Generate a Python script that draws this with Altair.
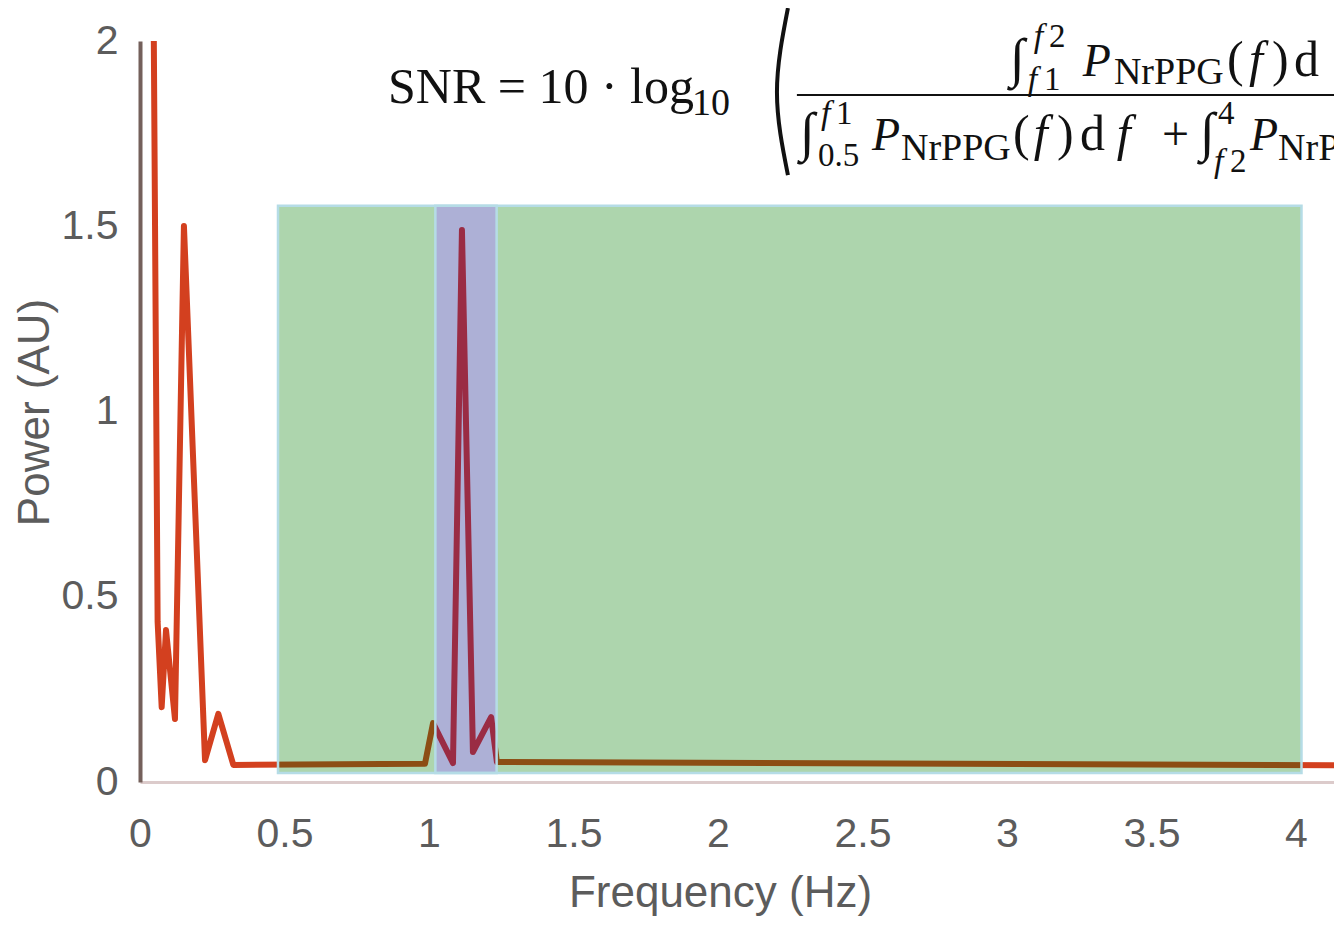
import altair as alt
import pandas as pd

# ---------------- data ----------------
freq = [0.047, 0.061, 0.075, 0.090, 0.121, 0.152, 0.225, 0.271, 0.323,
        0.986, 1.014, 1.083, 1.114, 1.152, 1.215, 1.235, 4.16]
power = [2.10, 0.432, 0.202, 0.410, 0.170, 1.501, 0.059, 0.184, 0.046,
         0.049, 0.159, 0.051, 1.490, 0.081, 0.175, 0.054, 0.045]

band_lo = [0.4775, 1.022]
band_hi = [4.019, 1.234]
band_bottom = [0.024, 0.024]
band_top = [1.555, 1.555]
band_fill = ["#add5ad", "#adb0d6"]

x_ticks = [0, 0.5, 1, 1.5, 2, 2.5, 3, 3.5, 4]
y_ticks = [0, 0.5, 1, 1.5, 2]

X_MAX = 4.1315
Y_MAX = 2.0

# formula annotation (placed in data units)
up_text = ["SNR = 10 · log", "10",
           "∫", "2", "1", "NrPPG", "(", ")", "d",
           "∫", "1", "0.5", "NrPPG", "(", ")", "d", "+", "∫", "4", "2", "NrPPG"]
up_f = [0.858, 1.910,
        3.010, 3.145, 3.128, 3.370, 3.761, 3.917, 3.993,
        2.284, 2.408, 2.346, 2.633, 3.021, 3.173, 3.253, 3.536, 3.668, 3.730, 3.772, 3.938]
up_p = [1.833, 1.800,
        1.906, 1.984, 1.868, 1.884, 1.906, 1.906, 1.906,
        1.706, 1.776, 1.662, 1.679, 1.706, 1.706, 1.706, 1.706, 1.706, 1.776, 1.646, 1.679]
up_size = [50, 38,
           54, 33, 33, 38, 50, 50, 50,
           54, 33, 33, 38, 50, 50, 50, 48, 54, 33, 33, 38]

it_text = ["f", "f", "P", "f", "f", "P", "f", "f", "f", "P"]
it_f = [3.093, 3.072, 3.262, 3.837, 2.356, 2.533, 3.093, 3.380, 3.716, 3.841]
it_p = [1.984, 1.868, 1.906, 1.906, 1.776, 1.706, 1.706, 1.706, 1.646, 1.706]
it_size = [34, 34, 46, 50, 34, 46, 50, 50, 34, 46]

bar_f = [2.273]
bar_f2 = [X_MAX]
bar_p = [1.8543]

paren_f = [2.242, 2.204, 2.242]
paren_p = [2.089, 1.862, 1.638]
paren_i = [0, 1, 2]

# ---------------- tables ----------------
curve = pd.DataFrame({"f": freq, "P": power})
bands = pd.DataFrame({"f": band_lo, "f2": band_hi, "P": band_bottom,
                      "P2": band_top, "c": band_fill, "o": [0, 1]})
ann_up = pd.DataFrame({"t": up_text, "f": up_f, "P": up_p, "s": up_size})
ann_it = pd.DataFrame({"t": it_text, "f": it_f, "P": it_p, "s": it_size})
bar = pd.DataFrame({"f": bar_f, "f2": bar_f2, "P": bar_p})
paren = pd.DataFrame({"f": paren_f, "P": paren_p, "i": paren_i})

# ---------------- styles ----------------
RED = "#d3401f"
BROWN = "#8c4e14"
MAROON = "#9a2c44"

fmin, fmax = min(freq), max(freq)


def off(v):
    return (v - fmin) / (fmax - fmin)


g_lo, b_lo = band_lo
g_hi, b_hi = band_hi
stops = [
    (0.0, RED), (off(g_lo), RED), (off(g_lo), BROWN), (off(b_lo), BROWN),
    (off(b_lo), MAROON), (off(b_hi), MAROON), (off(b_hi), BROWN),
    (off(g_hi), BROWN), (off(g_hi), RED), (1.0, RED),
]
grad = alt.Gradient(
    gradient="linear",
    stops=[alt.GradientStop(offset=o, color=c) for o, c in stops],
    x1=0, x2=1, y1=0, y2=0,
)

xscale = alt.Scale(domain=[0, X_MAX], nice=False, zero=False)
yscale = alt.Scale(domain=[0, Y_MAX], nice=False, zero=False)

LABEL_FONT = "Liberation Sans Narrow, Liberation Sans"
TITLE_FONT = "Liberation Sans"
GREY = "#5c5c5c"

x_axis = alt.Axis(
    values=x_ticks, format="~g", title="Frequency (Hz)", grid=False,
    ticks=False, tickSize=0, labelFlush=False, labelOverlap=False,
    labelFont=LABEL_FONT, labelFontSize=41, labelColor=GREY,
    labelPadding=64, labelBaseline="alphabetic",
    domainColor="#dccbcb", domainWidth=3,
    titleFont=TITLE_FONT, titleFontSize=44, titleFontWeight="normal",
    titleColor=GREY, titleX=580, titleY=124, titleBaseline="alphabetic",
    titleAlign="center",
)
y_axis = alt.Axis(
    values=y_ticks, format="~g", title="Power (AU)", grid=False,
    ticks=False, tickSize=0, labelFlush=False, labelOverlap=False,
    labelFont=LABEL_FONT, labelFontSize=41, labelColor=GREY,
    labelPadding=22,
    domainColor="#74605b", domainWidth=4,
    titleFont=TITLE_FONT, titleFontSize=44, titleFontWeight="normal",
    titleColor=GREY, titleX=-92, titleY=371, titleBaseline="alphabetic",
    titleAlign="center", titleAngle=-90,
)


def X(field="f:Q"):
    return alt.X(field, scale=xscale, axis=x_axis)


def Y(field="P:Q"):
    return alt.Y(field, scale=yscale, axis=y_axis)


band_fill_layer = alt.Chart(bands).mark_rect().encode(
    x=X(), x2="f2:Q", y=Y(), y2="P2:Q",
    fill=alt.Fill("c:N", scale=None),
    order=alt.Order("o:Q"),
)

line_layer = alt.Chart(curve).mark_line(
    stroke=grad, strokeWidth=6, strokeJoin="round", strokeCap="round", clip=True
).encode(
    x=X(), y=Y(), order=alt.Order("f:Q"),
)

band_edge_layer = alt.Chart(bands).mark_rect(
    fillOpacity=0, stroke="#b5dce6", strokeWidth=2.5
).encode(
    x=X(), x2="f2:Q", y=Y(), y2="P2:Q",
)

up_layer = alt.Chart(ann_up).mark_text(
    font="Liberation Serif", align="left", baseline="alphabetic", color="#111111"
).encode(
    x=X(), y=Y(), text="t:N", size=alt.Size("s:Q", scale=None),
)

it_layer = alt.Chart(ann_it).mark_text(
    font="Liberation Serif", fontStyle="italic", align="left",
    baseline="alphabetic", color="#111111"
).encode(
    x=X(), y=Y(), text="t:N", size=alt.Size("s:Q", scale=None),
)

bar_layer = alt.Chart(bar).mark_rule(color="#111111", strokeWidth=2.2).encode(
    x=X(), x2="f2:Q", y=Y(),
)

paren_layer = alt.Chart(paren).mark_line(
    color="#111111", strokeWidth=4, interpolate="natural"
).encode(
    x=X(), y=Y(), order=alt.Order("i:Q"),
)

chart = alt.layer(
    band_fill_layer, line_layer, band_edge_layer,
    up_layer, it_layer, bar_layer, paren_layer,
).properties(
    width=1194, height=741,
    padding={"left": 132, "top": 33, "right": 0, "bottom": 136},
    autosize=alt.AutoSizeParams(type="none"),
    background="white",
).configure_view(stroke=None)

chart.save("out.html", embed_options={"renderer": "svg", "actions": False})
